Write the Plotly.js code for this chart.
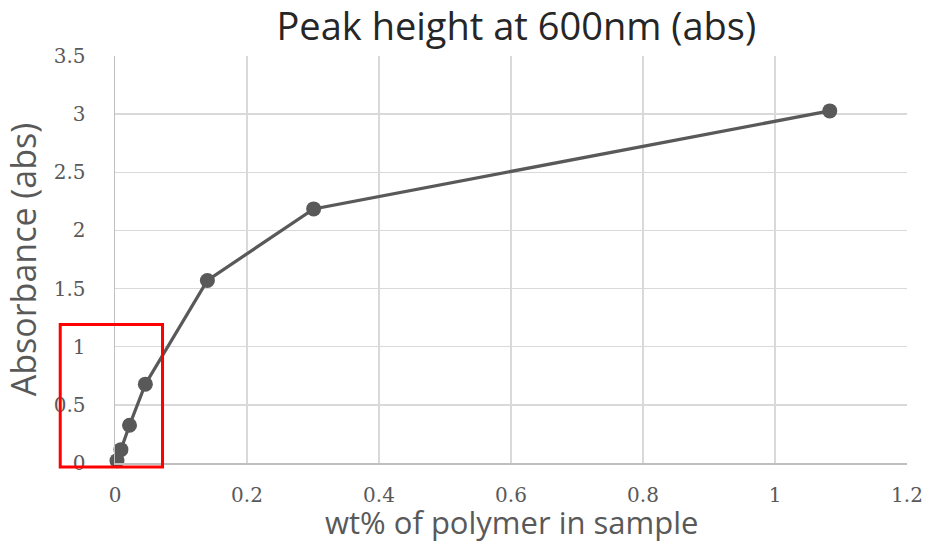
<!DOCTYPE html>
<html>
<head>
<meta charset="utf-8">
<script src="https://cdn.plot.ly/plotly-3.0.1.min.js"></script>
<style>html,body{margin:0;padding:0;background:#fff;}#chart{width:927px;height:542px;}</style>
</head>
<body>
<div id="chart"></div>
<script>
// Data
const wtPercent = [0.003, 0.009, 0.022, 0.046, 0.140, 0.301, 1.083];
const absorbance = [0.02, 0.115, 0.325, 0.678, 1.57, 2.185, 3.028];
const xTicks = [0, 0.2, 0.4, 0.6, 0.8, 1, 1.2];
const yTicks = [0, 0.5, 1, 1.5, 2, 2.5, 3, 3.5];
const xRange = [0, 1.2];
const yRange = [0, 3.5];
const xTitle = 'wt% of polymer in sample';
const yTitle = 'Absorbance (abs)';
const chartTitle = 'Peak height at 600nm (abs)';
// highlight box (data units)
const boxX = [-0.083, 0.072];
const boxY = [-0.034, 1.19];

const toPx = (v, r) => (v - r[0]) / (r[1] - r[0]);

const trace = {
  x: wtPercent, y: absorbance, type: 'scatter', mode: 'lines+markers',
  line: {color: '#595959', width: 3.25},
  marker: {color: '#595959', size: 15},
  hoverinfo: 'skip', cliponaxis: false
};

const tickFont = {family: '"DejaVu Serif", "Liberation Serif", serif', size: 20, color: '#595959'};
const layout = {
  width: 927, height: 542,
  margin: {l: 115, r: 20, t: 56, b: 79},
  paper_bgcolor: '#fff', plot_bgcolor: '#fff',
  showlegend: false,
  title: {text: chartTitle, font: {family: '"Open Sans", sans-serif', size: 38, color: '#262626'}, x: 0.557, xanchor: 'center', y: 0.95, yanchor: 'middle'},
  xaxis: {
    range: xRange, tickvals: xTicks, ticktext: xTicks.map(String),
    showgrid: true, gridcolor: '#d9d9d9', gridwidth: 1.5,
    zeroline: false, showline: true, linecolor: '#bfbfbf', linewidth: 1.5,
    ticks: '', ticklabelstandoff: 13, tickfont: tickFont
  },
  yaxis: {
    range: yRange, tickvals: yTicks, ticktext: yTicks.map(String),
    showgrid: true, gridcolor: '#d9d9d9', gridwidth: 1.5,
    zeroline: false, showline: true, linecolor: '#bfbfbf', linewidth: 1.5,
    ticks: '', ticklabelstandoff: 24, tickfont: tickFont,
    title: {text: yTitle, font: {family: '"Open Sans", sans-serif', size: 34, color: '#595959'}, standoff: 10}
  },
  annotations: [{
    text: xTitle, xref: 'paper', yref: 'paper', x: 0.501, y: -0.146,
    xanchor: 'center', yanchor: 'middle', showarrow: false,
    font: {family: '"Open Sans", sans-serif', size: 31, color: '#595959'}
  }],
  shapes: [{
    type: 'rect', xref: 'paper', yref: 'paper',
    x0: toPx(boxX[0], xRange), x1: toPx(boxX[1], xRange),
    y0: toPx(boxY[0], yRange), y1: toPx(boxY[1], yRange),
    line: {color: '#ff0000', width: 3}, fillcolor: 'rgba(0,0,0,0)', layer: 'above'
  }]
};

Plotly.newPlot('chart', [trace], layout, {displayModeBar: false, staticPlot: true});
</script>
</body>
</html>
